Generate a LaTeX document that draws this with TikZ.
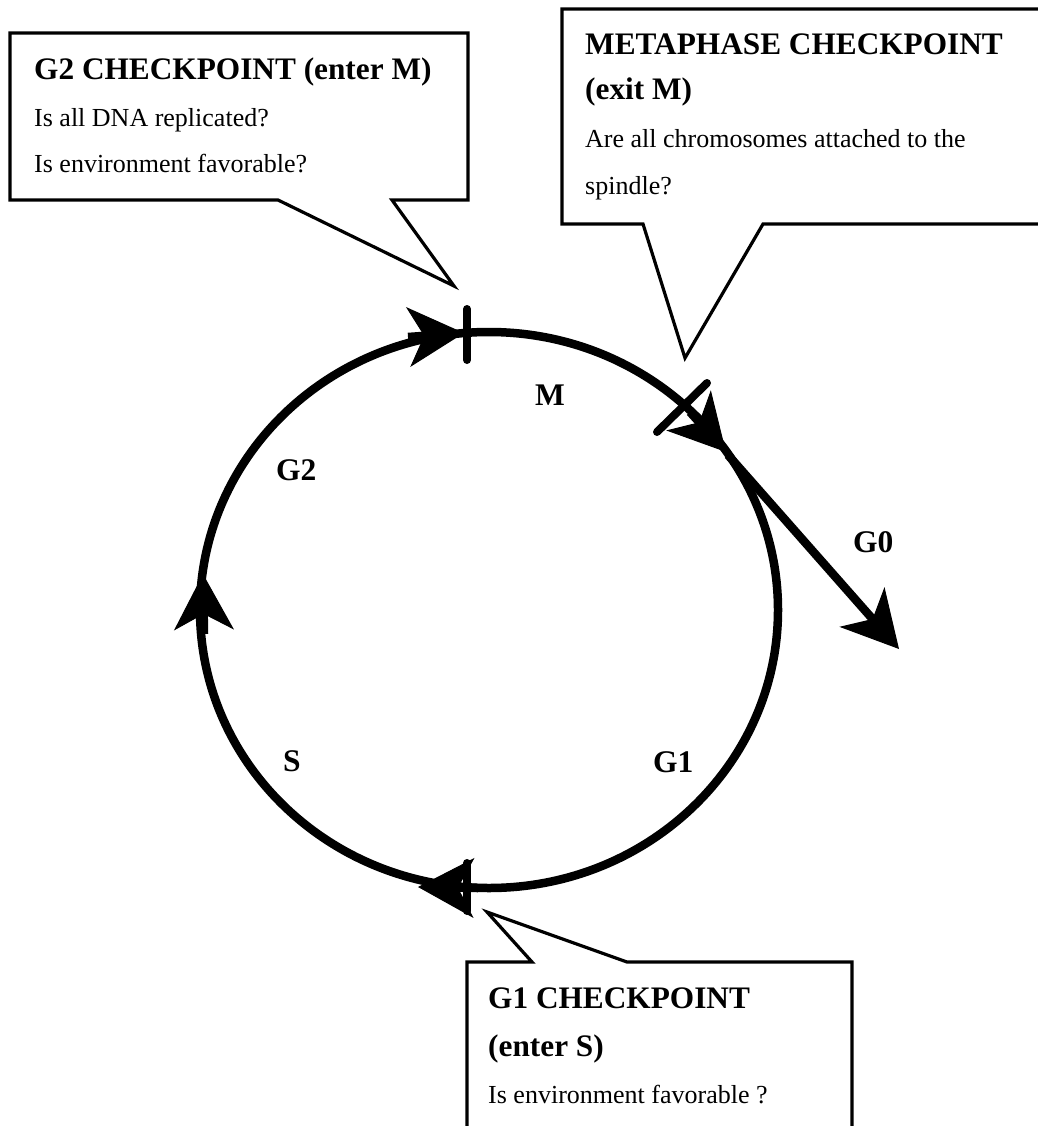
\documentclass[tikz,border=0pt]{standalone}
\usepackage{fontspec}
\setmainfont{Liberation Serif}
\usetikzlibrary{arrows.meta}

\begin{document}
\begin{tikzpicture}[x=1pt,y=-1pt,
  ring/.style={line width=8.5pt},
  tick/.style={line width=8pt, line cap=round},
  headtip/.style={-{Stealth[length=56pt,width=60pt,inset=16pt,line width=1pt]}},
  callout/.style={line width=3.2pt, miter limit=20},
  title/.style={anchor=base west, inner sep=0pt, font=\fontsize{31.3}{37}\selectfont\bfseries},
  body/.style={anchor=base west, inner sep=0pt, font=\fontsize{26}{31}\selectfont},
  phase/.style={anchor=base west, inner sep=0pt, font=\fontsize{31.5}{37}\selectfont\bfseries}]
\useasboundingbox (0,0) rectangle (1037,1126);

% the cycle
\coordinate (ctr) at (489,610);
\draw[ring] (ctr) ellipse [x radius=289pt, y radius=278pt];

% arrow heads along the cycle (base -> tip)
\coordinate (g2b) at (408,337);  \coordinate (g2t) at (464,333);
\coordinate (mb)  at (690,412);  \coordinate (mt)  at (726,452);
\coordinate (g1b) at (478,888);  \coordinate (g1t) at (418,887);
\coordinate (sb)  at (204,634);  \coordinate (st)  at (203,574);
\draw[ring, headtip] (g2b) -- (g2t);
\draw[ring, headtip] (mb) -- (mt);
\draw[ring, headtip] (g1b) -- (g1t);
\draw[ring, headtip] (sb) -- (st);

% exit to G0
\coordinate (g0s) at (728,455);
\coordinate (g0e) at (899,649);
\draw[ring, headtip] (g0s) -- (g0e);

% checkpoint marks
\coordinate (ck2a) at (467,309); \coordinate (ck2b) at (467,360);
\coordinate (ckma) at (657,432); \coordinate (ckmb) at (707,383);
\coordinate (ck1a) at (467,863); \coordinate (ck1b) at (467,911);
\draw[tick] (ck2a) -- (ck2b);
\draw[tick] (ckma) -- (ckmb);
\draw[tick] (ck1a) -- (ck1b);

% phase labels
\node[phase] (lm)  at (535,405) {M};
\node[phase] (lg2) at (276,480) {G2};
\node[phase] (ls)  at (283,771) {S};
\node[phase] (lg1) at (653,772) {G1};
\node[phase] (lg0) at (853,552) {G0};

% G2 checkpoint callout
\draw[callout] (10,33) -- (468,33) -- (468,200) -- (392,200) -- (454,286)
  -- (278,200) -- (10,200) -- cycle;
\node[title] (g2h) at (34,80) {G2 CHECKPOINT (enter M)};
\node[body] (g2q1) at (34,127) {Is all DNA replicated?};
\node[body] (g2q2) at (34,173) {Is environment favorable?};

% metaphase checkpoint callout
\draw[callout] (1040,9) -- (562,9) -- (562,224) -- (643,224) -- (685,358)
  -- (763,224) -- (1040,224);
\node[title] (mh1) at (585,55) {METAPHASE CHECKPOINT};
\node[title] (mh2) at (585,100) {(exit M)};
\node[body] (mq1) at (585,148) {Are all chromosomes attached to the};
\node[body] (mq2) at (585,194) {spindle?};

% G1 checkpoint callout
\draw[callout] (467,1130) -- (467,962) -- (532,962) -- (487,912) -- (627,962)
  -- (852,962) -- (852,1130);
\node[title] (g1h1) at (488,1008) {G1 CHECKPOINT};
\node[title] (g1h2) at (488,1056) {(enter S)};
\node[body] (g1q) at (488,1103) {Is environment favorable ?};
\end{tikzpicture}
\end{document}
